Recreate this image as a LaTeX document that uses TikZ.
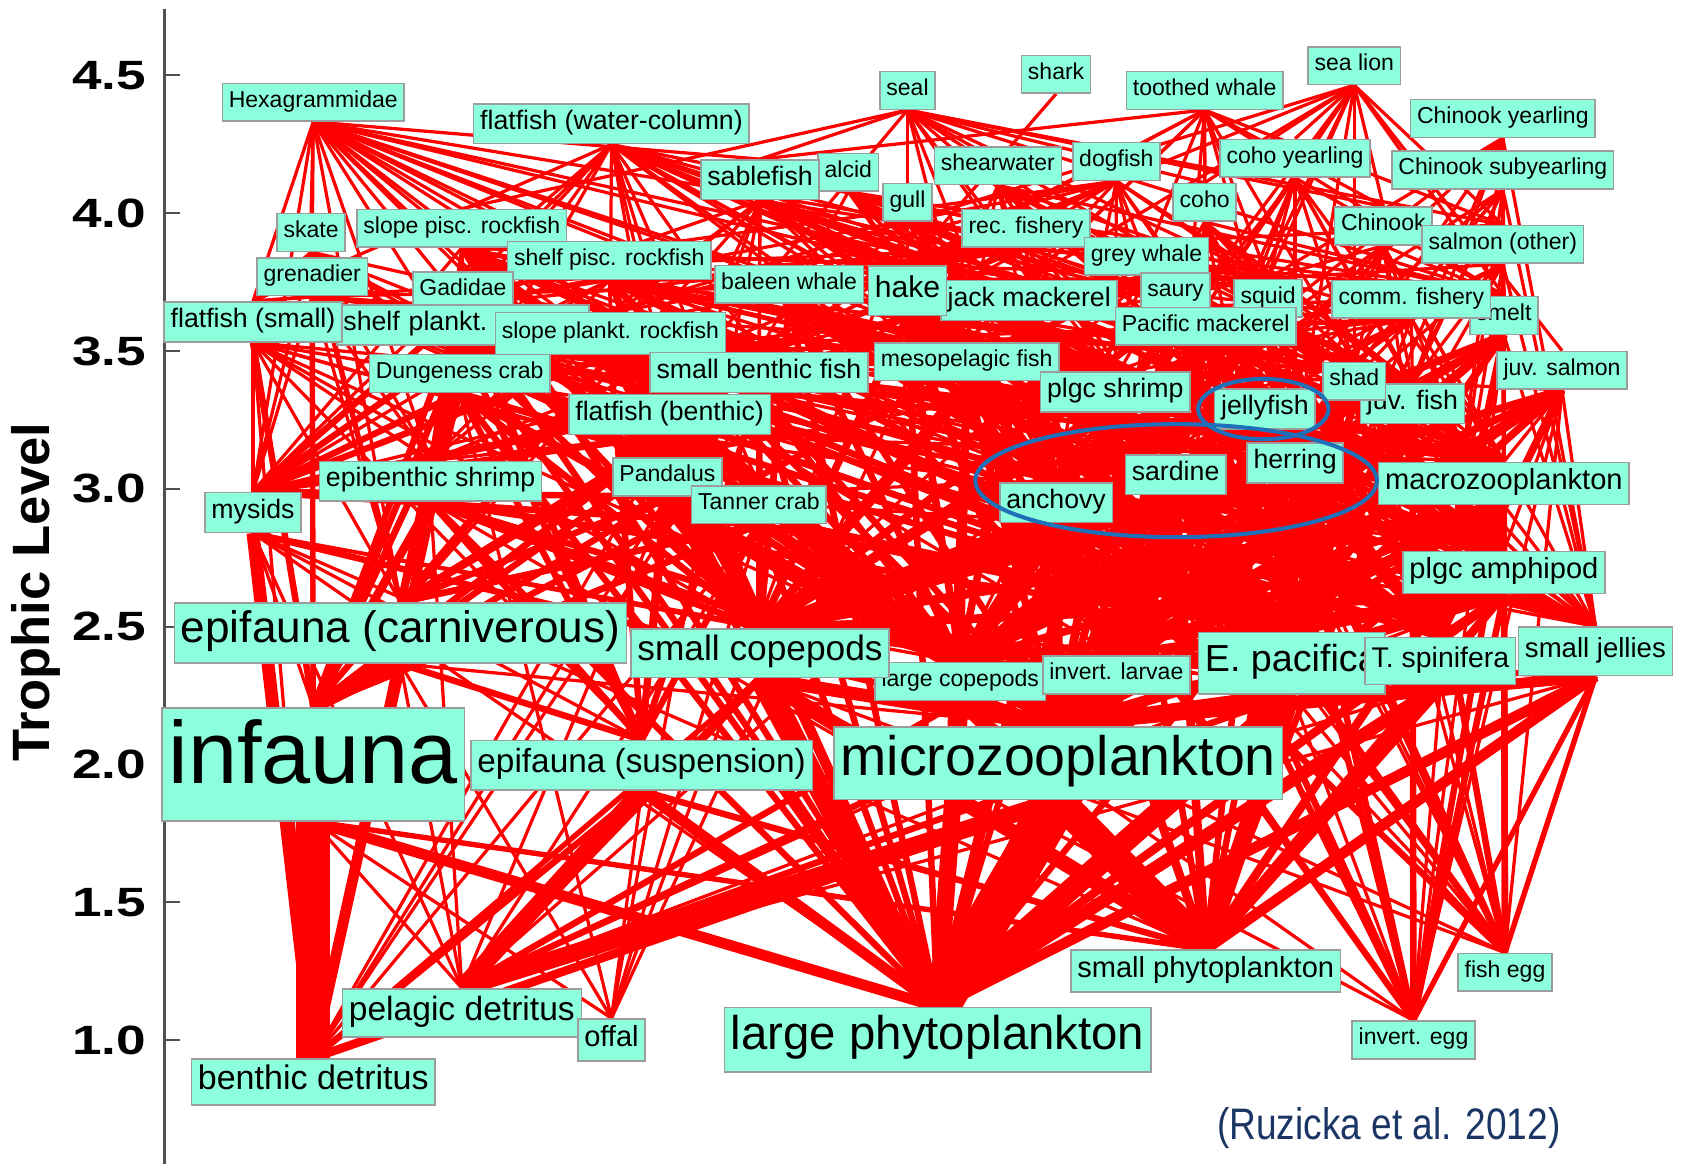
\documentclass[tikz,border=0pt]{standalone}
\usepackage{fontspec}
\setmainfont{Liberation Sans}
\usepackage{graphicx}
\usetikzlibrary{backgrounds}
\definecolor{boxFill}{HTML}{8CFFDC}
\definecolor{boxLine}{HTML}{9C9C9C}
\definecolor{flowRed}{HTML}{FF0000}
\definecolor{ringBlue}{HTML}{1F70B8}
\definecolor{citeNavy}{HTML}{1B3664}
\definecolor{axisGray}{HTML}{505050}
\tikzset{
  taxon/.style 2 args={draw=boxLine, fill=boxFill, line width=0.7pt,
                       inner xsep=3pt, inner ysep=0pt,
                       font=\fontsize{#1pt}{#1pt}\selectfont,
                       execute at begin node=\strut, minimum height=#2pt},
  smallbox/.style={taxon={10.7}{17.5}},
  midbox/.style={taxon={12.4}{18.5}},
  bigbox/.style={taxon={13.5}{19.5}},
  flow/.style={draw=flowRed, line width=1.5pt},
  ring/.style={draw=ringBlue, line width=1.9pt},
  ticklbl/.style={anchor=east, font=\fontsize{19pt}{19pt}\selectfont\bfseries},
}

\begin{document}
\begin{tikzpicture}[x=0.5pt, y=-0.5pt]
\useasboundingbox (0,0) rectangle (1568,1081);

%% Taxa (later nodes sit on top of earlier ones)
\node[smallbox] (hexa) at (291,95) {Hexagrammidae};
\node[midbox] (ffwc) at (568,115) {flatfish (water-column)};
\node[smallbox] (seal) at (843,84) {seal};
\node[smallbox] (shark) at (981,69) {shark};
\node[smallbox] (tooth) at (1119,84) {toothed whale};
\node[smallbox] (sealion) at (1258,61) {sea lion};
\node[smallbox] (chiny) at (1396,110) {Chinook yearling};
\node[smallbox] (chinsub) at (1396,158) {Chinook subyearling};
\node[smallbox] (cohoy) at (1203,147) {coho yearling};
\node[smallbox] (dogf) at (1037,150) {dogfish};
\node[smallbox] (shear) at (927,154) {shearwater};
\node[smallbox] (alcid) at (788,160) {alcid};
\node[midbox] (sable) at (706,167) {sablefish};
\node[smallbox] (gull) at (843,188) {gull};
\node[smallbox] (coho) at (1119,188) {coho};
\node[smallbox] (recf) at (953,212) {rec. fishery};
\node[smallbox] (chin) at (1285,210) {Chinook};
\node[smallbox] (salmo) at (1396,227) {salmon (other)};
\node[smallbox] (grey) at (1065,238) {grey whale};
\node[smallbox] (skate) at (289,216) {skate};
\node[smallbox] (slpisc) at (429,212) {slope pisc. rockfish};
\node[smallbox] (shpisc) at (566,242) {shelf pisc. rockfish};
\node[smallbox] (gren) at (290,257) {grenadier};
\node[smallbox] (gadi) at (430,270) {Gadidae};
\node[smallbox] (baleen) at (733,264) {baleen whale};
\node[midbox] (jack) at (956,279) {jack mackerel};
\node[taxon={14}{23}] (hake) at (843,270) {hake};
\node[smallbox] (saury) at (1092,271) {saury};
\node[smallbox] (squid) at (1178,277) {squid};
\node[smallbox] (smelt) at (1397,293) {smelt};
\node[smallbox] (commf) at (1311,278) {comm. fishery};
\node[midbox, text width=111pt, align=left] (shplank) at (430,302) {shelf plankt.};
\node[midbox] (ffsm) at (235,299) {flatfish (small)};
\node[taxon={10.7}{19.5}] (slplank) at (567,310) {slope plankt. rockfish};
\node[smallbox] (pacmack) at (1120,303) {Pacific mackerel};
\node[smallbox] (meso) at (898,336) {mesopelagic fish};
\node[smallbox] (dung) at (427,347) {Dungeness crab};
\node[midbox] (sbf) at (705,346) {small benthic fish};
\node[midbox] (plgcshr) at (1036,364) {plgc shrimp};
\node[midbox] (juvf) at (1312,375) {juv. fish};
\node[smallbox] (shad) at (1258,354) {shad};
\node[smallbox] (juvsal) at (1451,344) {juv. salmon};
\node[midbox] (jelly) at (1175,380) {jellyfish};
\node[midbox] (ffben) at (622,385) {flatfish (benthic)};
\node[midbox] (herr) at (1203,430) {herring};
\node[midbox] (sard) at (1092,441) {sardine};
\node[midbox] (anch) at (981,467) {anchovy};
\node[bigbox] (macro) at (1397,449) {macrozooplankton};
\node[midbox] (epish) at (400,447) {epibenthic shrimp};
\node[midbox] (mysid) at (235,476) {mysids};
\node[smallbox] (pand) at (620,443) {Pandalus};
\node[smallbox] (tanner) at (705,469) {Tanner crab};
\node[bigbox] (amph) at (1397,532) {plgc amphipod};
\node[taxon={20.5}{28}] (epicarn) at (372,588) {epifauna (carniverous)};
\node[smallbox] (lcop) at (892,633) {large copepods};
\node[taxon={16.4}{22.5}] (scop) at (706,607) {small copepods};
\node[smallbox] (ilarv) at (1037,627) {invert. larvae};
\node[taxon={17.5}{28.5}] (epac) at (1200,616) {E. pacifica};
\node[taxon={13.2}{22}] (tspin) at (1338,614) {T. spinifera};
\node[taxon={12.8}{22.5}] (sjel) at (1482,605) {small jellies};
\node[taxon={41}{52.5}] (infa) at (291,710) {infauna};
\node[taxon={15.5}{23}] (episus) at (596,711) {epifauna (suspension)};
\node[taxon={25.8}{33.5}] (microz) at (983,709) {microzooplankton};
\node[bigbox] (sphyto) at (1120,902) {small phytoplankton};
\node[smallbox] (fegg) at (1398,903) {fish egg};
\node[taxon={15.6}{22.5}] (pdet) at (429,941) {pelagic detritus};
\node[bigbox] (offal) at (568,966) {offal};
\node[taxon={22}{30}] (lphyto) at (871,966) {large phytoplankton};
\node[smallbox] (iegg) at (1313,966) {invert. egg};
\node[taxon={15.8}{21.5}] (bdet) at (291,1005) {benthic detritus};

%% Axis
\node[rotate=90, font=\fontsize{24.4pt}{24.4pt}\selectfont\bfseries] (ylab) at (33,550) {Trophic Level};
\foreach \lv [count=\i from 0] in {4.5,4.0,3.5,3.0,2.5,2.0,1.5,1.0} {
  \node[ticklbl] (tick\i) at (143,70+128*\i) {\scalebox{1.3}[1]{\lv}};
}
\node[text=citeNavy, font=\fontsize{20.5pt}{20.5pt}\selectfont] (cite) at (1290,1048)
  {\scalebox{0.84}[1]{(Ruzicka et al. 2012)}};

\begin{scope}[on background layer]
\draw[axisGray, line width=1.2pt] (153,8) -- (153,1081);
\foreach \i in {0,...,7}
  \draw[axisGray, line width=0.9pt] (153,70+128*\i) -- (167,70+128*\i);

%% Feeding links: predator (bottom) to prey (top)
\foreach \pred/\preys in {
  hexa/{skate,gren,ffsm,slpisc,shpisc,gadi,shplank,slplank,dung,sbf,ffben,epish,pand,tanner,hake,herr,anch,sard,squid,meso,sable,jack,mysid,epicarn},
  ffwc/{gadi,ffsm,shplank,slplank,dung,sbf,ffben,epish,pand,tanner,hake,meso,herr,anch,sard,squid,jack,pacmack,plgcshr,macro,epac,tspin,amph,mysid,scop},
  seal/{slpisc,hake,jack,pacmack,sable,squid,herr,anch,sard,ffben,meso,salmo,shad,smelt,coho,chin},
  shark/{hake},
  tooth/{sable,hake,squid,meso,salmo,coho,chin,jack,pacmack,herr,anch,sard,smelt,shad,ffben},
  sealion/{hake,slplank,squid,coho,chin,salmo,cohoy,herr,anch,sard,pacmack,jack,smelt,shad,juvsal},
  chiny/{herr,anch,sard,juvf,smelt,macro,amph,epac,tspin,squid,sjel},
  chinsub/{juvf,amph,macro,epac,tspin,lcop,ilarv,herr,anch,smelt,sjel,fegg},
  cohoy/{juvf,anch,herr,sard,macro,epac,tspin,amph,smelt,ilarv,lcop,squid},
  coho/{juvf,herr,anch,sard,smelt,macro,epac,tspin,amph,squid,shad},
  dogf/{hake,herr,anch,sard,squid,ffben,sbf,meso,plgcshr,pand,epac,epish,jelly,juvf,shplank,slplank,gadi},
  shear/{anch,sard,herr,squid,meso,juvf,macro,epac,amph,smelt,saury,offal,jack},
  alcid/{anch,herr,sard,juvf,meso,macro,epac,tspin,amph,squid,plgcshr,smelt,sbf},
  sable/{squid,meso,hake,ffben,sbf,slplank,shplank,jack,pacmack,herr,anch,plgcshr,macro,epac,tspin,epish,pand,tanner,infa,offal,sjel,jelly},
  gull/{anch,herr,sard,juvf,offal,macro,smelt,epac,sbf},
  recf/{hake,jack,pacmack,slplank,shplank,ffben,herr,anch,sard,salmo,sbf,squid,dung,ffsm,gadi,smelt,shad,pand},
  chin/{herr,anch,sard,juvf,smelt,macro,epac,tspin,amph,squid,ilarv,sjel},
  salmo/{herr,anch,sard,juvf,smelt,macro,epac,tspin,amph,squid,sjel,fegg},
  grey/{amph,macro,epac,infa,epish,mysid,tspin,ilarv,scop,lcop},
  skate/{ffsm,dung,epish,pand,tanner,epicarn,infa,mysid,sbf,ffben,bdet},
  slpisc/{gadi,shplank,slplank,hake,meso,sbf,ffben,squid,pand,epish,plgcshr,macro,epac,mysid,herr,anch},
  shpisc/{gadi,shplank,slplank,hake,sbf,ffben,herr,anch,sard,squid,pand,epish,plgcshr,macro,epac,tspin,mysid,juvf,dung},
  gren/{ffsm,dung,meso,sbf,ffben,epish,pand,tanner,epicarn,infa,mysid,macro,plgcshr,squid},
  gadi/{sbf,ffben,epish,pand,tanner,dung,epicarn,infa,mysid,herr,anch,sard,plgcshr,macro,epac,tspin,amph,scop,lcop},
  baleen/{anch,sard,herr,epac,tspin,macro,amph,scop,lcop,juvf,ilarv,sjel},
  hake/{anch,sard,herr,squid,meso,plgcshr,macro,epac,tspin,amph,juvf,pacmack,smelt,shad,lcop,scop,pand,ffben,sbf},
  jack/{anch,sard,herr,squid,meso,macro,epac,tspin,amph,scop,lcop,juvf,plgcshr,ilarv,fegg,sjel},
  saury/{scop,lcop,epac,tspin,amph,macro,fegg,ilarv,microz,sjel,juvf},
  squid/{anch,sard,herr,juvf,meso,plgcshr,macro,epac,tspin,amph,lcop,scop,sjel,smelt},
  commf/{hake,sard,anch,herr,squid,shad,smelt,ffben,sbf,dung,pand,juvf,macro,epac},
  smelt/{macro,epac,tspin,amph,scop,lcop,ilarv,fegg,iegg,sjel,juvf,microz},
  ffsm/{epish,mysid,pand,tanner,epicarn,infa,bdet,episus,amph,macro,scop,lcop},
  shplank/{epac,tspin,macro,amph,scop,lcop,juvf,sjel,anch,herr,sard,plgcshr,mysid,epish,pand},
  slplank/{epac,tspin,macro,amph,scop,lcop,meso,plgcshr,juvf,sjel,anch,squid,ilarv},
  pacmack/{anch,sard,herr,juvf,macro,epac,tspin,amph,scop,lcop,ilarv,fegg,sjel,squid,meso},
  meso/{scop,lcop,epac,tspin,amph,macro,ilarv,microz,fegg,iegg,sjel,plgcshr},
  dung/{epicarn,infa,epish,pand,tanner,mysid,bdet,episus,offal},
  sbf/{epicarn,infa,epish,pand,tanner,mysid,episus,amph,macro,scop,lcop,epac,bdet},
  plgcshr/{scop,lcop,microz,ilarv,epac,tspin,amph,macro,sjel,fegg,iegg,sphyto,lphyto,pdet},
  shad/{scop,lcop,microz,macro,amph,epac,tspin,ilarv,fegg,sjel,juvf},
  juvsal/{macro,amph,epac,tspin,lcop,ilarv,juvf,fegg,iegg,sjel},
  jelly/{scop,lcop,microz,ilarv,fegg,iegg,sjel,macro,amph,epac,tspin,juvf,sphyto,lphyto},
  juvf/{scop,lcop,microz,ilarv,fegg,iegg,macro,amph,epac,tspin,sjel,sphyto},
  ffben/{epicarn,infa,epish,pand,tanner,mysid,episus,bdet,amph,macro},
  herr/{scop,lcop,microz,ilarv,fegg,iegg,macro,amph,epac,tspin,sjel,sphyto,lphyto},
  sard/{scop,lcop,microz,ilarv,fegg,iegg,macro,amph,epac,tspin,sjel,sphyto,lphyto},
  anch/{scop,lcop,microz,ilarv,fegg,iegg,macro,amph,epac,tspin,sjel,sphyto,lphyto},
  macro/{scop,lcop,microz,ilarv,fegg,iegg,amph,sjel,sphyto,lphyto,pdet},
  epish/{infa,episus,mysid,bdet,pdet,microz,scop,lcop,epicarn,lphyto,sphyto},
  mysid/{infa,bdet,pdet,microz,scop,lcop,sphyto,lphyto,episus},
  pand/{epicarn,infa,episus,bdet,pdet,scop,lcop,microz,amph,macro,epac},
  tanner/{epicarn,infa,episus,bdet,pdet,offal,scop,microz},
  amph/{scop,lcop,microz,ilarv,fegg,iegg,sphyto,lphyto,pdet,sjel},
  epicarn/{infa,episus,bdet,pdet,offal,microz},
  scop/{microz,sphyto,lphyto,pdet,ilarv,fegg,iegg},
  lcop/{microz,sphyto,lphyto,pdet,ilarv,fegg,iegg},
  ilarv/{microz,sphyto,lphyto,pdet},
  epac/{microz,sphyto,lphyto,pdet,scop,lcop,ilarv,fegg,iegg},
  tspin/{microz,sphyto,lphyto,pdet,scop,lcop,ilarv,fegg,iegg},
  sjel/{microz,sphyto,lphyto,scop,lcop,ilarv,fegg,iegg,pdet},
  infa/{bdet,pdet,lphyto,sphyto,offal},
  episus/{pdet,bdet,lphyto,sphyto,offal},
  microz/{sphyto,lphyto,pdet,bdet}%
} {
  \foreach \prey in \preys
    \draw[flow] (\pred.south) -- (\prey.north);
}

%% Mid-water grazers on zooplankton (dense centre)
\foreach \pred in {anch,sard,herr,jelly,plgcshr,meso,juvf,shad,macro,amph,squid,pacmack,jack,hake,saury,smelt,juvsal} {
  \foreach \prey in {scop,lcop,ilarv,epac,tspin,microz}
    \draw[flow, line width=3.5pt] (\pred.south) -- (\prey.north);
}
\foreach \pred in {anch,sard,herr,jelly,plgcshr,macro,amph,juvf} {
  \foreach \prey in {sphyto,lphyto,iegg,fegg}
    \draw[flow, line width=3pt] (\pred.south) -- (\prey.north);
}
\foreach \pred in {dung,epish,pand,tanner,ffben,sbf,gadi,shplank,slplank} {
  \foreach \prey in {epicarn,infa,episus,scop,mysid}
    \draw[flow, line width=3pt] (\pred.south) -- (\prey.north);
}
\foreach \pred in {gadi,shplank,slplank,dung,sbf,ffben,pand,tanner,epish,baleen,hake,meso,slpisc,shpisc} {
  \foreach \prey in {scop,microz,lcop,epac,lphyto}
    \draw[flow, line width=3pt] (\pred.south) -- (\prey.north);
}

%% Heavy flows
\foreach \pred/\prey/\w in {
  infa/bdet/16, infa/lphyto/5, infa/sphyto/2.5,
  microz/lphyto/20, microz/sphyto/14, microz/pdet/8, microz/bdet/4,
  scop/lphyto/10, scop/sphyto/7, scop/microz/6, scop/pdet/4, scop/bdet/2.5,
  lcop/lphyto/8, lcop/sphyto/6, lcop/microz/5, lcop/pdet/3,
  epac/lphyto/10, epac/sphyto/8, epac/microz/7, epac/pdet/3,
  tspin/lphyto/6, tspin/sphyto/6, tspin/microz/5,
  sjel/microz/5, sjel/sphyto/5, sjel/lphyto/5, sjel/fegg/2.5, sjel/iegg/2.5,
  ilarv/microz/4, ilarv/sphyto/4, ilarv/lphyto/4,
  episus/pdet/8, episus/lphyto/5, episus/bdet/3, episus/sphyto/3,
  mysid/bdet/6, mysid/microz/3,
  epicarn/infa/6, epicarn/bdet/5, epicarn/episus/3,
  epish/infa/4, epish/bdet/3, epish/episus/3,
  ffsm/infa/3, ffben/infa/3, ffben/epicarn/3, dung/epicarn/3, dung/infa/3,
  pand/infa/2.5, tanner/epicarn/3, tanner/infa/3, sbf/epicarn/2.5,
  gren/infa/2.5, skate/epicarn/2.5,
  anch/scop/5, anch/microz/5, anch/lphyto/5, anch/lcop/4, anch/epac/4,
  sard/scop/5, sard/lphyto/5, sard/microz/4, sard/sphyto/4, sard/epac/4,
  herr/epac/5, herr/scop/4, herr/lcop/4, herr/tspin/4, herr/amph/4,
  macro/microz/5, macro/sphyto/4, macro/lphyto/4, macro/pdet/3, macro/scop/4,
  amph/microz/5, amph/sphyto/4, amph/lphyto/4, amph/scop/4,
  jelly/microz/4, jelly/scop/4, jelly/lcop/4,
  plgcshr/microz/4, plgcshr/epac/4,
  meso/epac/4, meso/macro/3,
  hake/epac/4, hake/anch/3, hake/meso/3, hake/herr/2.5,
  jack/anch/3, jack/sard/3,
  pacmack/anch/3, pacmack/juvf/3,
  squid/macro/3, squid/juvf/3,
  baleen/epac/5, baleen/tspin/4, baleen/scop/3, baleen/lcop/3, baleen/anch/3, baleen/sard/3,
  grey/amph/3, grey/infa/3, grey/epish/2.5,
  shplank/epac/3, slplank/epac/3, slplank/macro/3,
  gadi/epish/2.5, gadi/pand/2.5, gadi/epac/2.5%
} {
  \draw[flow, line width=\w pt] (\pred.south) -- (\prey.north);
}
\end{scope}

%% Highlight rings
\draw[ring] (1173.5,380) ellipse [x radius=30.25pt, y radius=14pt];
\draw[ring] (1092.5,446.5) ellipse [x radius=93.25pt, y radius=26.25pt];
\end{tikzpicture}
\end{document}
